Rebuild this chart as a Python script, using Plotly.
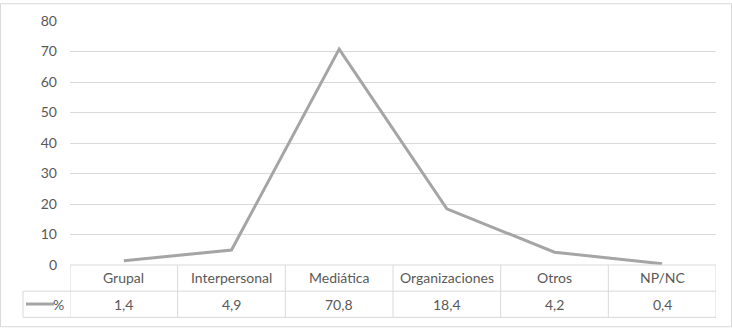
import plotly.graph_objects as go

categories = ["Grupal", "Interpersonal", "Mediática", "Organizaciones", "Otros", "NP/NC"]
values = [1.4, 4.9, 70.8, 18.4, 4.2, 0.4]
series_name = "%"
y_ticks = [0, 10, 20, 30, 40, 50, 60, 70, 80]

W, H = 732, 328
L, R, T, B = 70, 16, 18, 63
pw, ph = W - L - R, H - T - B

def py(p):  # pixel y -> paper y
    return (H - B - p) / ph

def px(p):  # pixel x -> paper x
    return (p - L) / pw

LINE = "#A5A5A5"
GRID = "#D9D9D9"
TXT = "#595959"
FONT = "Lato"

xs = list(range(len(categories)))
fig = go.Figure(go.Scatter(x=xs, y=values, mode="lines", name=series_name,
                           line=dict(color=LINE, width=3), hoverinfo="skip"))

shapes = []
annotations = []
row_top, row_mid, row_bot = py(265), py(291.5), py(318)
leg_left = px(23)
# horizontal table lines
shapes.append(dict(type="line", xref="paper", yref="paper", x0=0, x1=1, y0=row_top, y1=row_top,
                   line=dict(color=GRID, width=1)))
for yy in (row_mid, row_bot):
    shapes.append(dict(type="line", xref="paper", yref="paper", x0=leg_left, x1=1, y0=yy, y1=yy,
                       line=dict(color=GRID, width=1)))
shapes.append(dict(type="line", xref="paper", yref="paper", x0=leg_left, x1=leg_left, y0=row_mid, y1=row_bot,
                   line=dict(color=GRID, width=1)))
for i in range(len(categories) + 1):
    xv = i - 0.5
    shapes.append(dict(type="line", xref="x", yref="paper", x0=xv, x1=xv, y0=row_top, y1=row_bot,
                       line=dict(color=GRID, width=1)))
for i, (c, v) in enumerate(zip(categories, values)):
    annotations.append(dict(x=i, y=py(278), xref="x", yref="paper", text=c, showarrow=False,
                            font=dict(family=FONT, size=14, color=TXT), yanchor="middle"))
    annotations.append(dict(x=i, y=py(304.5), xref="x", yref="paper",
                            text=f"{v:.1f}".replace(".", ","), showarrow=False,
                            font=dict(family=FONT, size=14, color=TXT), yanchor="middle"))
# legend key
shapes.append(dict(type="line", xref="paper", yref="paper", x0=px(26), x1=px(54), y0=py(304.5), y1=py(304.5),
                   line=dict(color=LINE, width=3)))
annotations.append(dict(x=px(66), y=py(304.5), xref="paper", yref="paper", text=series_name, showarrow=False,
                        xanchor="right", yanchor="middle", font=dict(family=FONT, size=14, color=TXT)))
# outer border
shapes.append(dict(type="rect", xref="paper", yref="paper", x0=px(0.5), x1=px(W - 0.5), y0=py(0.5), y1=py(H - 0.5),
                   line=dict(color=GRID, width=1), layer="below"))

fig.update_layout(
    width=W, height=H, margin=dict(l=L, r=R, t=T, b=B),
    paper_bgcolor="white", plot_bgcolor="white", showlegend=False,
    font=dict(family=FONT, size=14, color=TXT),
    xaxis=dict(range=[-0.5, len(categories) - 0.5], showticklabels=False, showgrid=False,
               zeroline=False, showline=False, ticks=""),
    yaxis=dict(range=[0, 80], tickvals=y_ticks, showgrid=True, gridcolor=GRID, gridwidth=1,
               zeroline=False, showline=False, ticks="", ticklabelstandoff=12,
               tickfont=dict(family=FONT, size=14, color=TXT)),
    shapes=shapes, annotations=annotations,
)
fig.write_html("out.html")
